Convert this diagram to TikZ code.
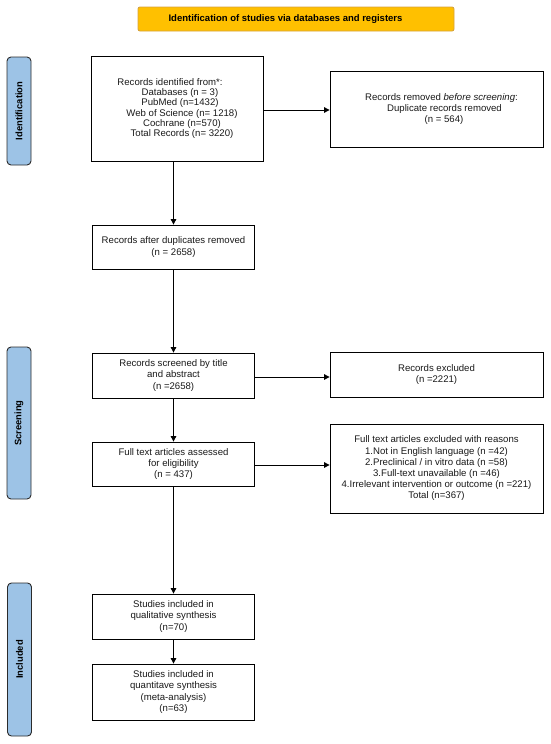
\documentclass[tikz,border=0pt]{standalone}
\usepackage{fontspec}
\setmainfont{Liberation Sans}
\usetikzlibrary{arrows.meta,calc}
\definecolor{hdr}{HTML}{FFC000}
\definecolor{hdrline}{HTML}{D6A23C}
\definecolor{sidefill}{HTML}{9DC3E6}
\definecolor{sideline}{HTML}{2B2B2B}
\definecolor{txt}{HTML}{1A1A1A}
\tikzset{
  box/.style={draw=black, line width=0.8pt, fill=white, align=center, text=txt,
    font=\fontsize{9.6}{11.2}\selectfont, inner sep=0pt},
  arr/.style={-{Triangle[length=5.5pt,width=5.5pt]}, line width=0.9pt},
  sidelab/.style={draw=sideline, fill=sidefill, rounded corners=4pt, line width=0.9pt,
    rotate=90, minimum height=24pt, inner sep=0pt,
    font=\fontsize{9.4}{11}\selectfont\bfseries},
  header/.style={draw=hdrline, fill=hdr, line width=0.9pt, rounded corners=2pt,
    minimum width=316pt, minimum height=24pt, inner sep=0pt,
    font=\fontsize{9.5}{11}\selectfont\bfseries}
}
\begin{document}
\begin{tikzpicture}[x=1pt,y=-1pt]
\useasboundingbox (0,0) rectangle (550,744);

% header
\node[header] (hd) at (296,19) {Identification of studies via databases and registers\hspace*{21pt}};

% side labels
\node[sidelab, minimum width=108pt] (sid) at (19,111) {Identification};
\node[sidelab, minimum width=152pt] (ssc) at (19,423) {Screening};
\node[sidelab, minimum width=153pt] (sin) at (19.5,659.5) {Included};

% left column
\node[box, minimum width=172pt, minimum height=105pt,
  font=\fontsize{9.6}{10.3}\selectfont] (b1) at (177,108.5)
  {Records identified from*:\hspace*{14pt}\\
   \hspace*{6pt}Databases (n = 3)\\
   \hspace*{6pt}PubMed (n=1432)\\
   \hspace*{10pt}Web of Science (n= 1218)\\
   \hspace*{10pt}Cochrane (n=570)\\
   \hspace*{10pt}Total Records (n= 3220)};
\node[box, minimum width=162pt, minimum height=44pt] (b2) at (173.5,247)
  {Records after duplicates removed\\(n = 2658)};
\node[box, minimum width=162pt, minimum height=45pt] (b3) at (173.5,375.5)
  {Records screened by title\\and abstract\\(n =2658)};
\node[box, minimum width=162pt, minimum height=44pt] (b4) at (173.5,464)
  {Full text articles assessed\\for eligibility\\(n = 437)};
\node[box, minimum width=162pt, minimum height=45pt] (b5) at (173.5,616.5)
  {Studies included in\\qualitative synthesis\\(n=70)};
\node[box, minimum width=162pt, minimum height=56pt] (b6) at (173.5,692)
  {Studies included in\\quantitave synthesis\\(meta-analysis)\\(n=63)};

% right column
\node[box, minimum width=213pt, minimum height=76pt] (r1) at (436.5,109)
  {\hspace*{10pt}Records removed \textit{before screening}:\\
   \hspace*{16pt}Duplicate records removed\\
   \hspace*{15pt}(n = 564)};
\node[box, minimum width=213pt, minimum height=45pt] (r2) at (436.5,374.5)
  {Records excluded\\(n =2221)};
\node[box, minimum width=213pt, minimum height=89pt] (r3) at (436.5,468.5)
  {Full text articles excluded with reasons\\
   1.Not in English language (n =42)\\
   2.Preclinical / in vitro data (n =58)\\
   3.Full-text unavailable (n =46)\\
   4.Irrelevant intervention or outcome (n =221)\\
   Total (n=367)};

% vertical arrows
\draw[arr] (b1.south -| b2.north) -- (b2.north);
\draw[arr] (b2.south) -- (b3.north);
\draw[arr] (b3.south) -- (b4.north);
\draw[arr] (b4.south) -- (b5.north);
\draw[arr] (b5.south) -- (b6.north);

% horizontal arrows
\draw[arr] ($(b1.east)+(0,1.5)$) -- ($(r1.west)+(0,1)$);
\draw[arr] ($(b3.east)+(0,1.5)$) -- (r2.west |- {$(b3.east)+(0,1.5)$});
\draw[arr] ($(b4.east)+(0,1)$) -- (r3.west |- {$(b4.east)+(0,1)$});
\end{tikzpicture}
\end{document}
